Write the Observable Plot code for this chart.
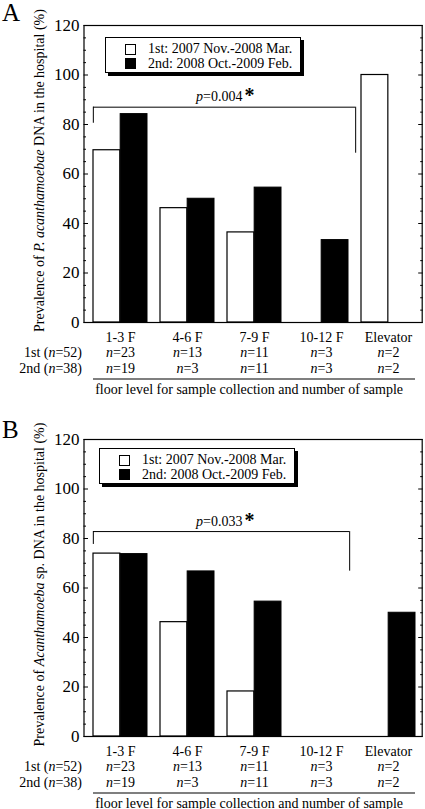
<!DOCTYPE html>
<html>
<head>
<meta charset="utf-8">
<script src="https://cdn.jsdelivr.net/npm/d3@7"></script>
<script src="https://cdn.jsdelivr.net/npm/@observablehq/plot@0.6"></script>
<style>
  html, body { margin: 0; padding: 0; background: #fff; }
  body { font-family: "Liberation Serif", "Times New Roman", serif; color: #000; }
  .panel { position: relative; width: 425px; height: 414px; overflow: hidden; }
  .panel svg { position: absolute; left: 0; top: 0; }
  .legend { position: absolute; box-sizing: border-box; border: 1px solid #000; background: #fff;
            box-shadow: 3px 3px 0 #000; font-size: 14px; font-family: "Liberation Serif", "Times New Roman", serif; }
  .legend .item { position: absolute; left: 19px; height: 14px; display: flex; align-items: center; white-space: nowrap; }
  .legend .sw { box-sizing: border-box; width: 11px; height: 11px; border: 1px solid #000; margin-right: 12px; }
</style>
</head>
<body>
<div id="root"></div>
<script>
// ---------- data ----------
const categories = ["1-3 F", "4-6 F", "7-9 F", "10-12 F", "Elevator"];
const nFirst = ["n=23", "n=13", "n=11", "n=3", "n=2"];
const nSecond = ["n=19", "n=3", "n=11", "n=3", "n=2"];
const rowLabels = ["1st (n=52)", "2nd (n=38)"];
const seriesNames = ["1st: 2007 Nov.-2008 Mar.", "2nd: 2008 Oct.-2009 Feb."];
const caption = "floor level for sample collection and number of sample";
const yTicks = [0, 20, 40, 60, 80, 100, 120];
const yMinorTicks = [5, 10, 15, 25, 30, 35, 45, 50, 55, 65, 70, 75, 85, 90, 95, 105, 110, 115];

const firstA = [69.6, 46.2, 36.4, 0, 100];
const secondA = [84.2, 50.0, 54.5, 33.3, 0];
const firstB = [73.9, 46.2, 18.2, 0, 0];
const secondB = [73.7, 66.7, 54.5, 0, 50.0];

const yLabelA = ["Prevalence of ", "P. acanthamoebae", " DNA in the hospital (%)"];
const yLabelB = ["Prevalence of ", "Acanthamoeba", " sp. DNA in the hospital (%)"];

const bracketA = [{from: "1-3 F", to: "10-12 F", top: 87, left: 80.5, right: 68.4, label: "p=0.004*"}];
const bracketB = [{from: "1-3 F", to: "10-12 F", top: 82.8, left: 77.6, right: 66.8, label: "p=0.033*"}];

// ---------- layout ----------
const W = 425, H = 414, ML = 83.5, MR = 3.3, MT = 25, MB = 92;
const PI = 0.2, PO = 0.09, AL = 0.6;
const band = d3.scaleBand().domain(categories).range([ML, W - MR]).paddingInner(PI).paddingOuter(PO).align(AL);
const bw = band.bandwidth();
const FONT = '"Liberation Serif", "Times New Roman", serif';

function richify(svg) {
  d3.select(svg).selectAll("text").each(function () {
    if (this.querySelector("tspan")) return;
    const t = this.textContent;
    const m = /^(.*?)\b([np])=(.*)$/.exec(t);
    if (!m) return;
    const el = d3.select(this);
    el.text(null);
    if (m[1]) el.append("tspan").text(m[1]);
    el.append("tspan").attr("font-style", "italic").text(m[2]);
    let rest = "=" + m[3];
    if (rest.endsWith("*")) {
      el.append("tspan").text(rest.slice(0, -1));
      el.append("tspan").attr("font-size", 20).attr("font-weight", "bold").attr("dx", 2).attr("dy", 1).text("*");
    } else {
      el.append("tspan").text(rest);
    }
  });
}

function makePanel(cfg) {
  const rows1 = categories.map((c, i) => ({cat: c, value: cfg.first[i]}));
  const rows2 = categories.map((c, i) => ({cat: c, value: cfg.second[i]}));
  const nRows1 = categories.map((c, i) => ({cat: c, n: nFirst[i]}));
  const nRows2 = categories.map((c, i) => ({cat: c, n: nSecond[i]}));
  const underline = [{from: categories[0], to: categories[categories.length - 1], y: 0}];

  const svg = Plot.plot({
    width: W, height: H,
    marginLeft: ML, marginRight: MR, marginTop: MT, marginBottom: MB,
    style: {fontFamily: FONT, fontSize: "14px", background: "transparent", color: "#000", overflow: "visible"},
    x: {domain: categories, paddingInner: PI, paddingOuter: PO, align: AL, axis: null},
    y: {domain: [0, 120], axis: null},
    marks: [
      Plot.barY(rows1, {x: "cat", y: "value", fill: "white", stroke: "black", strokeWidth: 1.2, insetRight: bw / 2}),
      Plot.barY(rows2, {x: "cat", y: "value", fill: "black", stroke: "black", strokeWidth: 1, insetLeft: bw / 2}),
      Plot.frame({stroke: "black", strokeWidth: 1.2}),
      Plot.axisY({anchor: "left", ticks: yTicks, tickSize: -4.5, tickFormat: () => "", label: null}),
      Plot.axisY({anchor: "left", ticks: yMinorTicks, tickSize: -2.5, tickFormat: () => "", label: null}),
      Plot.axisY({anchor: "right", ticks: yTicks, tickSize: -4.5, tickFormat: () => "", label: null}),
      Plot.axisY({anchor: "right", ticks: yMinorTicks, tickSize: -2.5, tickFormat: () => "", label: null}),
      Plot.axisY({anchor: "left", ticks: yTicks, tickSize: 0, tickPadding: 4.5, fontSize: 17, label: null}),
      // significance bracket
      Plot.ruleY(cfg.bracket, {x1: "from", x2: "to", y: "top", stroke: "black", strokeWidth: 1, insetRight: -cfg.rightExtra}),
      Plot.ruleX(cfg.bracket, {x: "from", y1: "left", y2: "top", stroke: "black", strokeWidth: 1, dx: -bw / 2}),
      Plot.ruleX(cfg.bracket, {x: "to", y1: "right", y2: "top", stroke: "black", strokeWidth: 1, dx: bw / 2 + cfg.rightExtra}),
      Plot.text(cfg.bracket, {x: "from", y: "top", text: "label", textAnchor: "start", lineAnchor: "bottom", dx: 75.5, dy: -6, fontSize: 14}),
      // category rows below the frame
      Plot.text(categories, {x: d => d, text: d => d, frameAnchor: "bottom", dy: 19, fontSize: 14}),
      Plot.text(nRows1, {x: "cat", text: "n", frameAnchor: "bottom", dy: 34, fontSize: 14}),
      Plot.text(nRows2, {x: "cat", text: "n", frameAnchor: "bottom", dy: 50, fontSize: 14}),
      Plot.text([rowLabels[0]], {text: d => d, frameAnchor: "bottom-left", textAnchor: "end", dx: -2, dy: 34, fontSize: 14}),
      Plot.text([rowLabels[1]], {text: d => d, frameAnchor: "bottom-left", textAnchor: "end", dx: -2, dy: 50, fontSize: 14}),
      Plot.ruleY(underline, {x1: "from", x2: "to", y: "y", dy: 56.5, stroke: "black", strokeWidth: 1.2}),
      Plot.text([caption], {text: d => d, frameAnchor: "bottom", dy: 71, dx: -4, fontSize: 14})
    ]
  });

  richify(svg);

  const s = d3.select(svg);
  // rotated y-axis label with italic species name
  const yl = s.append("text")
    .attr("transform", `translate(39,${(MT + H - MB) / 2 - 3}) rotate(-90)`)
    .attr("text-anchor", "middle").attr("dy", "0.35em")
    .attr("font-size", 14).attr("font-family", FONT).attr("fill", "black");
  cfg.yLabel.forEach((part, i) => {
    const t = yl.append("tspan").text(part);
    if (i === 1) t.attr("font-style", "italic");
  });
  // panel letter
  s.append("text").attr("x", 2).attr("y", cfg.letterY).attr("font-size", 25)
    .attr("text-anchor", "start")
    .attr("font-family", FONT).attr("fill", "black").text(cfg.letter);

  const panel = document.createElement("div");
  panel.className = "panel";
  panel.appendChild(svg);

  // legend
  const lg = document.createElement("div");
  lg.className = "legend";
  Object.assign(lg.style, {left: cfg.legend[0] + "px", top: cfg.legend[1] + "px", width: "196px", height: "36px"});
  seriesNames.forEach((name, i) => {
    const it = document.createElement("div");
    it.className = "item";
    it.style.top = (i === 0 ? 4.5 : 19) + "px";
    const sw = document.createElement("span");
    sw.className = "sw";
    sw.style.background = i === 0 ? "#fff" : "#000";
    it.appendChild(sw);
    const tx = document.createElement("span");
    tx.textContent = name;
    it.appendChild(tx);
    lg.appendChild(it);
  });
  panel.appendChild(lg);
  return panel;
}

const root = document.getElementById("root");
root.appendChild(makePanel({first: firstA, second: secondA, bracket: bracketA, rightExtra: 7,
  yLabel: yLabelA, letter: "A", letterY: 21, legend: [105, 36.5]}));
root.appendChild(makePanel({first: firstB, second: secondB, bracket: bracketB, rightExtra: 1,
  yLabel: yLabelB, letter: "B", letterY: 24, legend: [99, 33.5]}));
</script>
</body>
</html>
